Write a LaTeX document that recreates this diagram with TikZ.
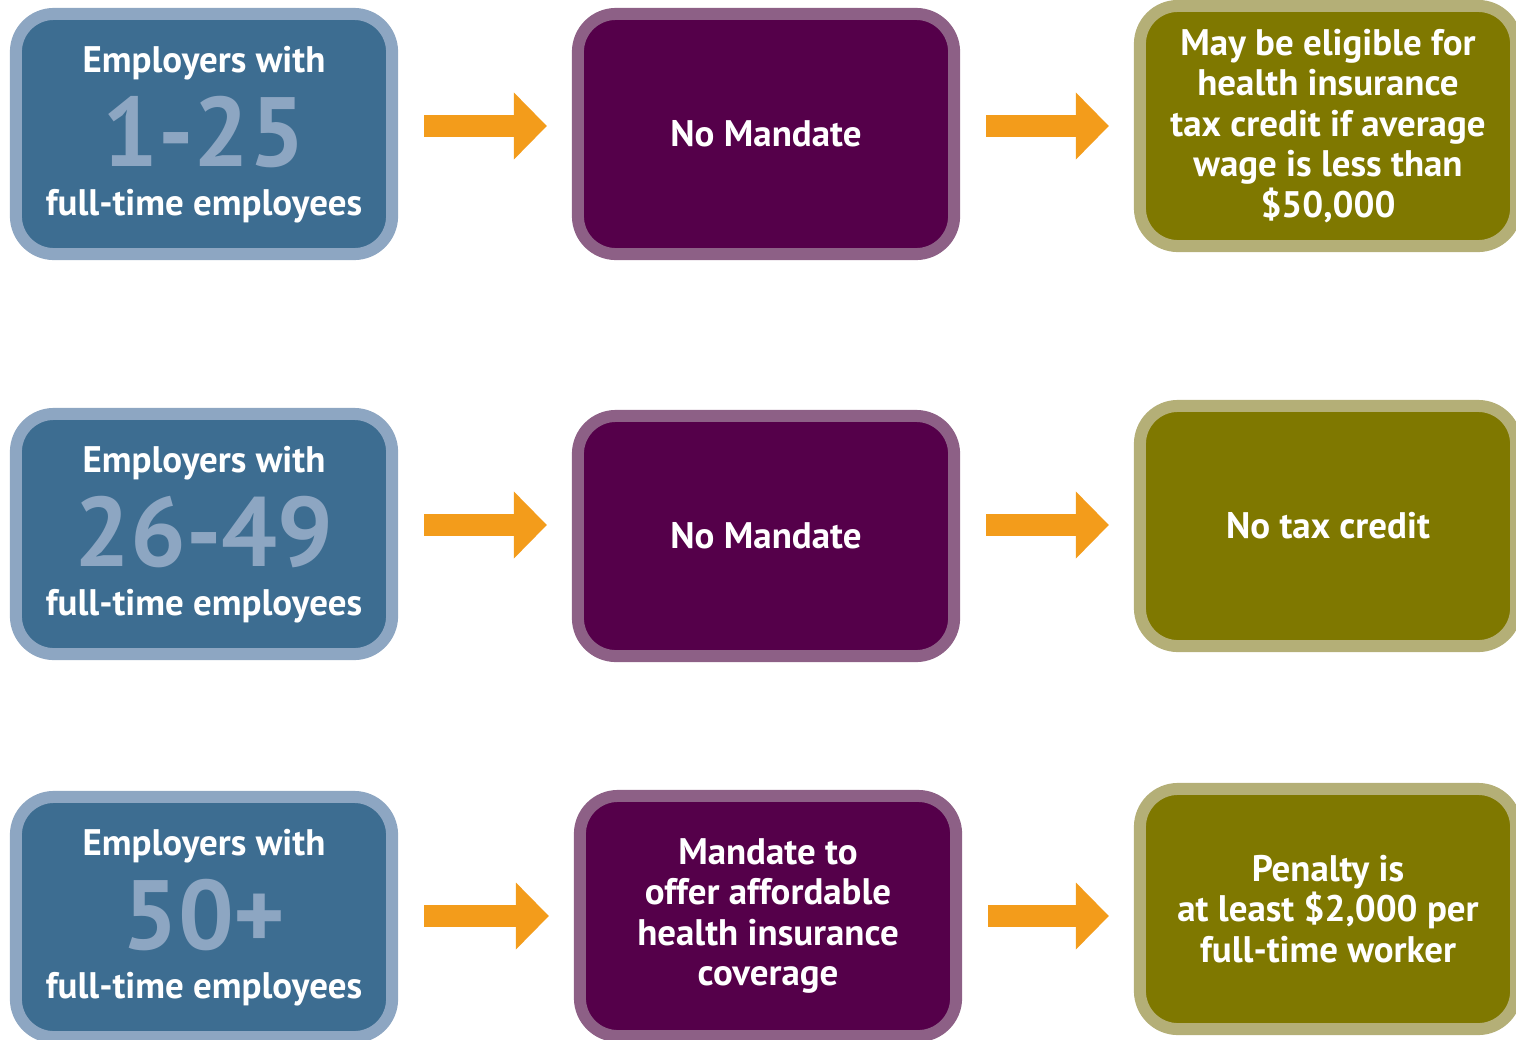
\documentclass[tikz,border=0pt]{standalone}
\usepackage{fontspec}
\setmainfont{PT Sans}
\usepackage{tikz}
\usetikzlibrary{positioning,arrows.meta,calc}

\definecolor{empfill}{HTML}{3D6D91}
\definecolor{empline}{HTML}{8DA6C2}
\definecolor{manfill}{HTML}{55004A}
\definecolor{manline}{HTML}{8D6086}
\definecolor{resfill}{HTML}{7F7800}
\definecolor{resline}{HTML}{B4AF77}
\definecolor{arrowc}{HTML}{F39C1B}

\begin{document}
\begin{tikzpicture}[x=0.01cm, y=-0.01cm, font=\bfseries\fontsize{10.5}{11.5}\selectfont, text=white,
    box/.style={draw, rounded corners=0.38cm, line width=0.12cm, minimum width=3.76cm, minimum height=2.4cm, inner sep=0pt, align=center},
    empbox/.style={box, fill=empfill, draw=empline},
    manbox/.style={box, fill=manfill, draw=manline},
    resbox/.style={box, fill=resfill, draw=resline},
    txt/.style={anchor=base},
    big/.style={anchor=base, text=empline, font=\bfseries\fontsize{28}{30}\selectfont},
    flow/.style={-{Triangle[length=0.33cm, width=0.65cm]}, line width=0.22cm, draw=arrowc, shorten <=0.26cm, shorten >=0.25cm}]

  \useasboundingbox (0,0) rectangle (1516,1039);

  % Row 1: 1-25 employees
  \node[empbox] (e1) at (204, 134) {};
  \node[txt] (e1top) at ($(e1)+(0,-62)$) {Employers with};
  \node[big] (e1num) at ($(e1)+(0,32)$) {1-25};
  \node[txt] (e1bot) at ($(e1)+(0,81)$) {full-time employees};
  \node[manbox] (m1) at (766, 134) {No Mandate};
  \node[resbox] (r1) at (1328, 126) {May be eligible for\\health insurance\\tax credit if average\\wage is less than\\\$50,000};
  \draw[flow] (e1.east |- 0,126) -- (m1.west |- 0,126);
  \draw[flow] (m1.east |- 0,126) -- (r1.west |- 0,126);

  % Row 2: 26-49 employees
  \node[empbox] (e2) at (204, 534) {};
  \node[txt] (e2top) at ($(e2)+(0,-62)$) {Employers with};
  \node[big] (e2num) at ($(e2)+(0,32)$) {26-49};
  \node[txt] (e2bot) at ($(e2)+(0,81)$) {full-time employees};
  \node[manbox] (m2) at (766, 536) {No Mandate};
  \node[resbox] (r2) at (1328, 526) {No tax credit};
  \draw[flow] (e2.east |- 0,525) -- (m2.west |- 0,525);
  \draw[flow] (m2.east |- 0,525) -- (r2.west |- 0,525);

  % Row 3: 50+ employees
  \node[empbox] (e3) at (204, 917) {};
  \node[txt] (e3top) at ($(e3)+(0,-62)$) {Employers with};
  \node[big] (e3num) at ($(e3)+(0,32)$) {50+};
  \node[txt] (e3bot) at ($(e3)+(0,81)$) {full-time employees};
  \node[manbox] (m3) at (768, 916) {Mandate to\\offer affordable\\health insurance\\coverage};
  \node[resbox] (r3) at (1328, 909) {Penalty is\\at least \$2,000 per\\full-time worker};
  \draw[flow] (e3.east |- 0,916) -- (m3.west |- 0,916);
  \draw[flow] (m3.east |- 0,916) -- (r3.west |- 0,916);

\end{tikzpicture}
\end{document}
